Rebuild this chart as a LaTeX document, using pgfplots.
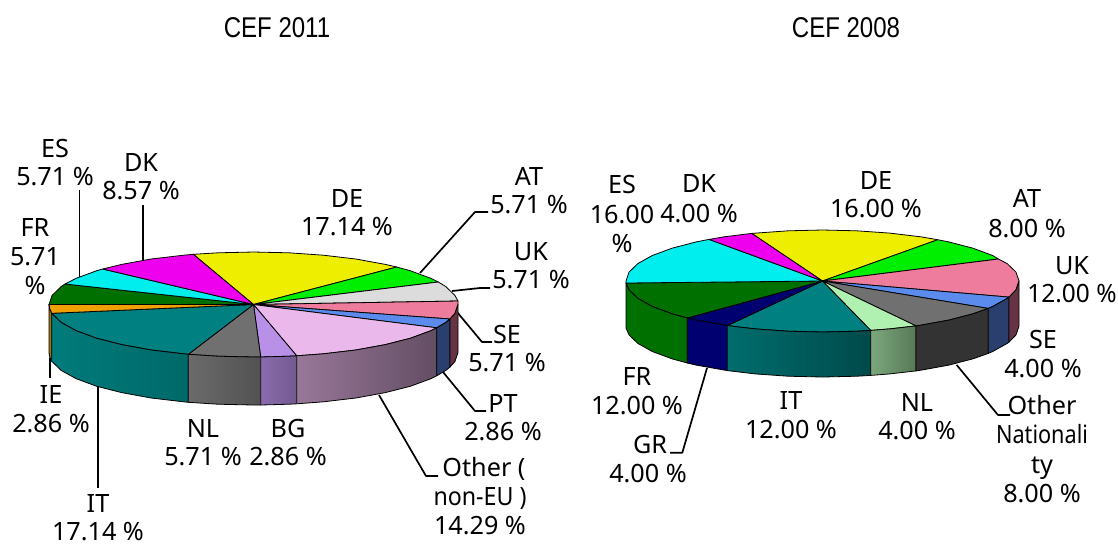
\documentclass[border=0pt]{standalone}
\usepackage{fontspec}
\setmainfont{Noto Sans}
\newfontfamily\titlefont{Liberation Sans}
\usepackage{pgfplots}
\pgfplotsset{compat=1.18}
\definecolor{cDE}{HTML}{EEEE00}
\definecolor{cAT}{HTML}{00EE00}
\definecolor{cUK}{HTML}{DCDCDC}
\definecolor{cPK}{HTML}{EE7C9C}
\definecolor{cBL}{HTML}{5B8CED}
\definecolor{cOT}{HTML}{EBB8EC}
\definecolor{cBG}{HTML}{B890E8}
\definecolor{cNL}{HTML}{707070}
\definecolor{cIT}{HTML}{008080}
\definecolor{cIE}{HTML}{F0A000}
\definecolor{cFR}{HTML}{007000}
\definecolor{cES}{HTML}{00EEEE}
\definecolor{cDK}{HTML}{EE00EE}
\definecolor{cGR}{HTML}{000070}
\definecolor{cLG}{HTML}{B0F0B0}
\definecolor{sBL}{HTML}{2A3F6E}
\definecolor{sPK}{HTML}{663344}
\newcommand{\lab}[3]{\node[anchor=base,inner sep=0pt,font=\fontsize{12.6}{14}\selectfont] at (axis cs:#1,#2) {#3};}
\newcommand{\ttl}[3]{\node[anchor=base,inner sep=0pt,xscale=.84,font=\titlefont\fontsize{14.3}{16}\selectfont] at (axis cs:#1,#2) {#3};}
\begin{document}
\begin{tikzpicture}
\useasboundingbox (0,0) rectangle (559pt,271.5pt);
\begin{axis}[
  at={(0,0)}, anchor=south west,
  scale only axis, width=559pt, height=271.5pt,
  xmin=0, xmax=1118, ymin=0, ymax=543, y dir=reverse,
  hide axis, clip=false,
  every axis plot/.append style={draw=black, line width=.4pt, line join=round},
]
% leaders
\addplot[line width=.85pt] coordinates {(79.5,190) (79.5,277)};
\addplot[line width=.85pt] coordinates {(143,205) (143,262)};
\addplot[line width=.85pt] coordinates {(420,273) (475,212) (488,212)};
\addplot[line width=.85pt] coordinates {(452,291) (480,288) (490,288)};
\addplot[line width=.85pt] coordinates {(457,312) (482,342) (492,342)};
\addplot[line width=.85pt] coordinates {(443,372) (475,411) (486,411)};
\addplot[line width=.85pt] coordinates {(379,395) (426,476) (438,476)};
\addplot[line width=.85pt] coordinates {(50,358) (50,378)};
\addplot[line width=.85pt] coordinates {(98,386) (98,488)};
\addplot[line width=.85pt] coordinates {(707,368) (682.3,452.7) (670,452.7)};
\addplot[line width=.85pt] coordinates {(956.7,365) (998,415) (1010,415)};
% CEF 2011 tops
\addplot[fill=cDE] coordinates {(253.5,304.5) (396.7,267) (384.9,264.3) (355.8,259) (323.4,255.2) (289,252.8) (253.5,252) (218,252.8) (193.3,254.3)} -- cycle;
\addplot[fill=cAT] coordinates {(253.5,304.5) (438.3,282) (430.6,278.2) (410.2,270.7) (396.7,267)} -- cycle;
\addplot[fill=cUK] coordinates {(253.5,304.5) (458,301) (454.9,295.4) (445.7,286.5) (438.3,282)} -- cycle;
\addplot[fill=cPK] coordinates {(253.5,304.5) (450,319) (454.9,313.6) (458,304.5) (458,301)} -- cycle;
\addplot[fill=cBL] coordinates {(253.5,304.5) (436.7,327.8) (445.7,322.5) (450,319)} -- cycle;
\addplot[fill=cOT] coordinates {(253.5,304.5) (296.7,355.8) (323.4,353.8) (355.8,350) (384.9,344.7) (410.2,338.3) (430.6,330.8) (436.7,327.8)} -- cycle;
\addplot[fill=cBG] coordinates {(253.5,304.5) (260.7,357) (289,356.2) (296.7,355.8)} -- cycle;
\addplot[fill=cNL] coordinates {(253.5,304.5) (188.3,354.3) (218,356.2) (253.5,357) (260.7,357)} -- cycle;
\addplot[fill=cIT] coordinates {(253.5,304.5) (51.7,313.3) (61.3,322.5) (76.4,330.8) (96.8,338.3) (122.1,344.7) (151.2,350) (183.6,353.8) (188.3,354.3)} -- cycle;
\addplot[fill=cIE] coordinates {(253.5,304.5) (49,304.5) (49.7,309) (51.7,313.3)} -- cycle;
\addplot[fill=cFR] coordinates {(253.5,304.5) (65,284) (61.3,286.5) (52.1,295.4) (49,304.5)} -- cycle;
\addplot[fill=cES] coordinates {(253.5,304.5) (102.7,269) (96.8,270.7) (76.4,278.2) (65,284)} -- cycle;
\addplot[fill=cDK] coordinates {(253.5,304.5) (193.3,254.3) (183.6,255.2) (151.2,259) (122.1,264.3) (102.7,269)} -- cycle;
% CEF 2011 sides
\addplot[fill=cIE!70!black] coordinates {(49,304.5) (49.7,309) (51.7,313.3) (51.7,361.3) (49.7,357) (49,352.5)} -- cycle;
\addplot[left color=cIT!96!black, right color=cIT!82!black] coordinates {(51.7,313.3) (61.3,322.5) (76.4,330.8) (96.8,338.3) (122.1,344.7) (151.2,350) (183.6,353.8) (188.3,354.3) (188.3,402.3) (183.6,401.8) (151.2,398) (122.1,392.7) (96.8,386.3) (76.4,378.8) (61.3,370.5) (51.7,361.3)} -- cycle;
\addplot[left color=black!58, right color=black!68] coordinates {(188.3,354.3) (218,356.2) (253.5,357) (260.7,357) (260.7,405) (253.5,405) (218,404.2) (188.3,402.3)} -- cycle;
\addplot[left color=cBG!75!black, right color=cBG!62!black] coordinates {(260.7,357) (289,356.2) (296.7,355.8) (296.7,403.8) (289,404.2) (260.7,405)} -- cycle;
\addplot[left color=cOT!65!black, middle color=cOT!50!black, right color=cOT!42!black] coordinates {(296.7,355.8) (323.4,353.8) (355.8,350) (384.9,344.7) (410.2,338.3) (430.6,330.8) (436.7,327.8) (436.7,375.8) (430.6,378.8) (410.2,386.3) (384.9,392.7) (355.8,398) (323.4,401.8) (296.7,403.8)} -- cycle;
\addplot[fill=sBL] coordinates {(436.7,327.8) (445.7,322.5) (450,319) (450,367) (445.7,370.5) (436.7,375.8)} -- cycle;
\addplot[fill=sPK] coordinates {(450,319) (454.9,313.6) (458,304.5) (458,352.5) (454.9,361.6) (450,367)} -- cycle;
% CEF 2008 tops
\addplot[fill=cDE] coordinates {(822.5,281) (937.7,239.7) (920.8,236.8) (889.7,233.1) (856.7,230.8) (822.5,230) (788.3,230.8) (751.7,233.4)} -- cycle;
\addplot[fill=cAT] coordinates {(822.5,281) (998.3,259) (992.7,255.5) (973,248.2) (948.8,241.9) (937.7,239.7)} -- cycle;
\addplot[fill=cPK] coordinates {(822.5,281) (1009,297.1) (1016,289.9) (1019,281) (1016,272.1) (1007.2,263.6) (998.3,259)} -- cycle;
\addplot[fill=cBL] coordinates {(822.5,281) (988.3,308.4) (992.7,306.5) (1007.2,298.4) (1009,297.1)} -- cycle;
\addplot[fill=cNL] coordinates {(822.5,281) (916,325.9) (920.8,325.2) (948.8,320.1) (973,313.8) (988.3,308.4)} -- cycle;
\addplot[fill=cLG] coordinates {(822.5,281) (870.7,330.4) (889.7,328.9) (916,325.9)} -- cycle;
\addplot[fill=cIT] coordinates {(822.5,281) (727.3,325.6) (755.3,328.9) (788.3,331.2) (822.5,332) (856.7,331.2) (870.7,330.4)} -- cycle;
\addplot[fill=cGR] coordinates {(822.5,281) (687.3,318) (696.2,320.1) (727.3,325.6)} -- cycle;
\addplot[fill=cFR] coordinates {(822.5,281) (626,283) (629,289.9) (637.8,298.4) (652.3,306.5) (672,313.8) (687.3,318)} -- cycle;
\addplot[fill=cES] coordinates {(822.5,281) (709,239.4) (696.2,241.9) (672,248.2) (652.3,255.5) (637.8,263.6) (629,272.1) (626,281) (626,283)} -- cycle;
\addplot[fill=cDK] coordinates {(822.5,281) (751.7,233.4) (724.2,236.8) (709,239.4)} -- cycle;
% CEF 2008 sides
\addplot[fill=cFR] coordinates {(626,283) (629,289.9) (637.8,298.4) (652.3,306.5) (672,313.8) (687.3,318) (687.3,363) (672,358.8) (652.3,351.5) (637.8,343.4) (629,334.9) (626,328)} -- cycle;
\addplot[fill=cGR] coordinates {(687.3,318) (696.2,320.1) (727.3,325.6) (727.3,370.6) (696.2,365.1) (687.3,363)} -- cycle;
\addplot[left color=cIT!85!black, right color=cIT!58!black] coordinates {(727.3,325.6) (755.3,328.9) (788.3,331.2) (822.5,332) (856.7,331.2) (870.7,330.4) (870.7,375.4) (856.7,376.2) (822.5,377) (788.3,376.2) (755.3,373.9) (727.3,370.6)} -- cycle;
\addplot[left color=cLG!70!black, right color=cLG!50!black] coordinates {(870.7,330.4) (889.7,328.9) (916,325.9) (916,370.9) (889.7,373.9) (870.7,375.4)} -- cycle;
\addplot[fill=black!80] coordinates {(916,325.9) (920.8,325.2) (948.8,320.1) (973,313.8) (988.3,308.4) (988.3,353.4) (973,358.8) (948.8,365.1) (920.8,370.2) (916,370.9)} -- cycle;
\addplot[fill=sBL] coordinates {(988.3,308.4) (992.7,306.5) (1007.2,298.4) (1009,297.1) (1009,342.1) (1007.2,343.4) (992.7,351.5) (988.3,353.4)} -- cycle;
\addplot[fill=sPK] coordinates {(1009,297.1) (1016,289.9) (1019,281) (1019,326) (1016,334.9) (1009,342.1)} -- cycle;
% titles
\ttl{277}{37}{CEF 2011}
\ttl{846}{37}{CEF 2008}
% labels CEF 2011
\lab{55}{157}{ES}\lab{55}{185}{5.71 \%}
\lab{141}{171}{DK}\lab{141}{199}{8.57 \%}
\lab{35}{236}{FR}\lab{35}{265}{5.71}\lab{35}{294}{\%}
\lab{347}{207}{DE}\lab{347}{235}{17.14 \%}
\lab{529}{185}{AT}\lab{529}{213}{5.71 \%}
\lab{531}{260}{UK}\lab{531}{288}{5.71 \%}
\lab{507}{343}{SE}\lab{507}{371}{5.71 \%}
\lab{503}{412}{PT}\lab{503}{440}{2.86 \%}
\lab{484}{476}{Other (}\lab{480}{505}{\scalebox{.92}[1]{non-EU )}}\lab{480}{534}{14.29 \%}
\lab{288}{437}{BG}\lab{288}{465}{2.86 \%}
\lab{203}{437}{NL}\lab{203}{465}{5.71 \%}
\lab{51}{403}{IE}\lab{51}{432}{2.86 \%}
\lab{98}{512}{IT}\lab{98}{540}{17.14 \%}
% labels CEF 2008
\lab{622}{193}{ES}\lab{622}{223}{16.00}\lab{622}{252}{\%}
\lab{699}{192}{DK}\lab{699}{222}{4.00 \%}
\lab{876}{189}{DE}\lab{876}{217}{16.00 \%}
\lab{1027}{207}{AT}\lab{1027}{237}{8.00 \%}
\lab{1072}{274}{UK}\lab{1072}{302}{\scalebox{.97}[1]{12.00 \%}}
\lab{1043}{348}{SE}\lab{1043}{377}{4.00 \%}
\lab{1042}{414}{Other}\lab{1042}{443}{\scalebox{.86}[1]{Nationali}}\lab{1042}{473}{ty}\lab{1042}{502}{8.00 \%}
\lab{917}{411}{NL}\lab{917}{439}{4.00 \%}
\lab{791}{409}{IT}\lab{791}{438}{12.00 \%}
\lab{637}{385}{FR}\lab{637}{414}{12.00 \%}
\lab{650}{453}{GR}\lab{648}{482}{4.00 \%}
\end{axis}
\end{tikzpicture}
\end{document}
